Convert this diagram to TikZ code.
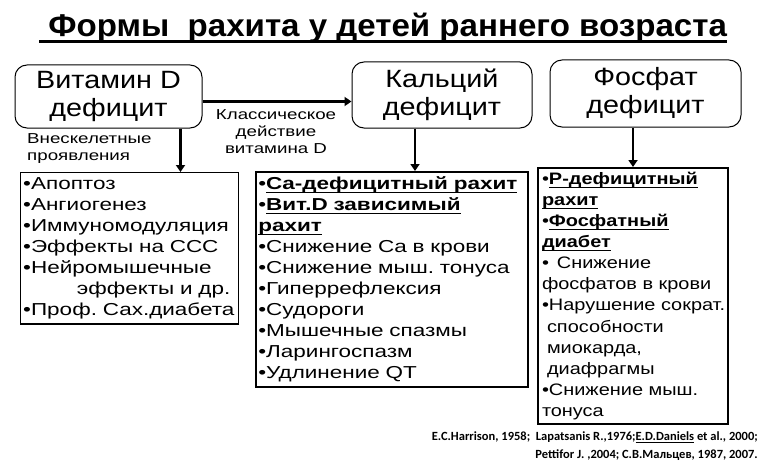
\documentclass[tikz,border=0pt]{standalone}
\usepackage{fontspec}
\setmainfont{Liberation Sans}[FakeStretch=1.3]
\newfontfamily\narrowfont{Liberation Sans}[FakeStretch=1.2]
\newfontfamily\headfont{Liberation Sans}[FakeStretch=1.15]
\newfontfamily\titlefont{Liberation Sans}[FakeStretch=1.05]
\newfontfamily\citefont{Carlito}
\usetikzlibrary{arrows.meta, positioning, calc}

% underline: thickness, gap below baseline, text
\newsavebox\ulsave
\newcommand\ulrule[3]{\sbox\ulsave{#3}\leavevmode
    \rlap{\vrule width\wd\ulsave height -#2 depth \dimexpr#2+#1\relax}\usebox\ulsave}
\newcommand\keyitem[1]{\ulrule{1.3pt}{2.2pt}{\bfseries #1}}

\tikzset{
    headbox/.style={draw, line width=1pt, rounded corners=12pt, align=center,
        font=\headfont\fontsize{25}{28}\selectfont, inner sep=0pt},
    listbox/.style={draw, anchor=north west, align=left, inner xsep=2.5pt,
        inner ysep=5pt, font=\fontsize{17.3}{21}\selectfont},
    note/.style={font=\fontsize{14.4}{17}\selectfont, inner sep=0pt},
    arr/.style={line width=2.6pt, -{Triangle[length=7pt, width=9pt]}}
}

\begin{document}
\frenchspacing
\begin{tikzpicture}[x=1pt, y=-1pt]
    \useasboundingbox (0,0) rectangle (778,468);

    % title
    \node[font=\titlefont\fontsize{31.5}{34}\selectfont\bfseries] (title) at (383,28)
        {\ulrule{2.4pt}{4pt}{\ Формы\ \ рахита у детей раннего возраста}};

    % three deficits
    \node[headbox, minimum width=187pt, minimum height=63pt] (vd) at (108.5,96.5) {Витамин D\\дефицит};
    \node[headbox, minimum width=180pt, minimum height=66pt] (ca) at (442,95) {Кальций\\дефицит};
    \node[headbox, minimum width=191pt, minimum height=67pt] (ph) at (645.5,93.5) {Фосфат\\дефицит};

    % lists
    \node[listbox, text width=213pt, line width=1.4pt] (l1) at (20,172)
        {•Апоптоз\\•Ангиогенез\\•Иммуномодуляция\\•Эффекты на ССС\\•Нейромышечные\\
         \hspace*{3.1em}эффекты и др.\\•Проф. Сах.диабета};
    \node[listbox, text width=267pt, line width=1.6pt] (l2) at (255,171)
        {•\keyitem{Ca-дефицитный рахит}\\•\keyitem{Вит.D зависимый}\\\keyitem{рахит}\\
         •Снижение Ca в крови\\•Снижение мыш. тонуса\\•Гиперрефлексия\\•Судороги\\
         •Мышечные спазмы\\•Ларингоспазм\\•Удлинение QT};
    \node[listbox, text width=182pt, line width=2pt, inner xsep=4pt, inner ysep=4pt,
        font=\narrowfont\fontsize{16.6}{21.1}\selectfont] (l3) at (537,167)
        {•\keyitem{P-дефицитный}\\\keyitem{рахит}\\•\keyitem{Фосфатный}\\\keyitem{диабет}\\
         •\hspace*{8pt}Снижение\\\mbox{фосфатов в крови}\\\mbox{•Нарушение сократ.}\\
         \hspace*{5pt}способности\\\hspace*{5pt}миокарда,\\\hspace*{5pt}диафрагмы\\
         \mbox{•Снижение мыш.}\\тонуса};

    % labels
    \node[note, anchor=north west, align=left] (extra) at (27,133) {Внескелетные\\проявления};
    \node[note, anchor=north, align=center] (classic) at (276,109) {Классическое\\действие\\витамина D};

    % arrows
    \coordinate (a0) at ([yshift=-5pt]vd.east);
    \draw[arr] (a0) -- (a0 -| ca.west);
    \coordinate (a1) at ([xshift=72pt]vd.south);
    \draw[arr] (a1) -- (a1 |- l1.north);
    \coordinate (a2) at ([xshift=-27pt]ca.south);
    \draw[arr] (a2) -- (a2 |- l2.north);
    \draw[arr] (ph.south -| l3.north) -- (l3.north);

    % references
    \node[anchor=north east, align=right, inner sep=0pt,
        font=\citefont\fontsize{12.5}{18}\selectfont\bfseries] (refs) at (758,432)
        {E.C.Harrison, 1958;\ \ Lapatsanis R.,1976;\ulrule{0.8pt}{1.5pt}{E.D.Daniels} et al., 2000;\\
         Pettifor J. ,2004; С.В.Мальцев, 1987, 2007.};
\end{tikzpicture}
\end{document}
